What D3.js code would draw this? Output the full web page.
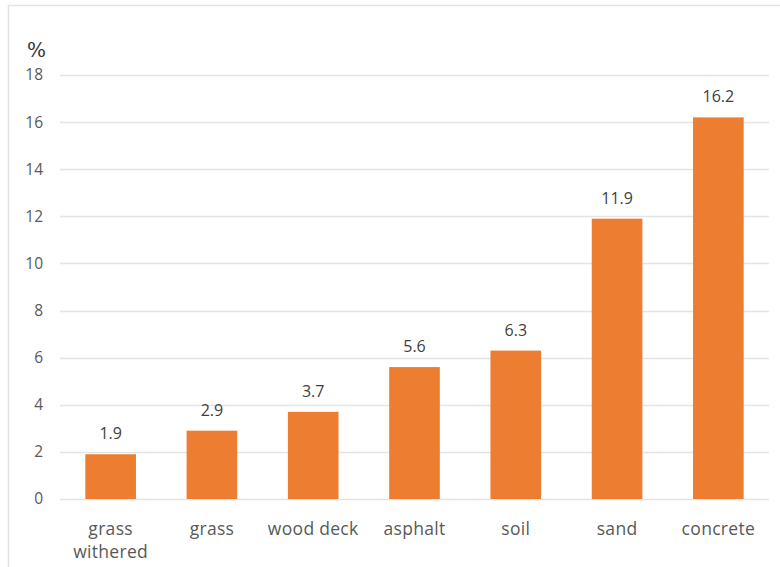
<!DOCTYPE html>
<html>
<head>
<meta charset="utf-8">
<script src="https://cdn.jsdelivr.net/npm/d3@7"></script>
<style>
  html, body { margin: 0; padding: 0; background: #fff; }
  svg { display: block; }
</style>
</head>
<body>
<svg id="chart" width="780" height="567"></svg>
<script>
const categories = ["grass withered", "grass", "wood deck", "asphalt", "soil", "sand", "concrete"];
const values = [1.9, 2.9, 3.7, 5.6, 6.3, 11.9, 16.2];
const yTicks = [0, 2, 4, 6, 8, 10, 12, 14, 16, 18];
const unitLabel = "%";

const svg = d3.select("#chart");
const plotLeft = 60, plotRight = 769, plotTop = 75, plotBottom = 499;

// outer frame (partially cropped)
svg.append("rect")
  .attr("x", 8.5).attr("y", 5.5)
  .attr("width", 800).attr("height", 600)
  .attr("fill", "none").attr("stroke", "#dfe2e7").attr("stroke-width", 1.5);

const x = d3.scaleBand().domain(categories).range([plotLeft, plotRight])
  .paddingInner(0.5).paddingOuter(0.25);
const y = d3.scaleLinear().domain([0, 18]).range([plotBottom, plotTop]);

// grid lines
svg.append("g").selectAll("line").data(yTicks).join("line")
  .attr("x1", plotLeft).attr("x2", plotRight)
  .attr("y1", d => Math.round(y(d)) + 0.5).attr("y2", d => Math.round(y(d)) + 0.5)
  .attr("stroke", "#e1e4e9").attr("stroke-width", 1.5);

// y axis labels
const yAxis = d3.axisLeft(y).tickValues(yTicks).tickSize(0).tickPadding(0);
const yg = svg.append("g").attr("transform", `translate(43,0)`).call(yAxis);
yg.select(".domain").remove();
yg.selectAll("text")
  .attr("font-family", "'Open Sans', sans-serif")
  .attr("font-size", 15.5)
  .attr("fill", "#595959");

// bars
svg.append("g").selectAll("rect").data(values).join("rect")
  .attr("x", (d, i) => x(categories[i]))
  .attr("width", x.bandwidth())
  .attr("y", d => y(d))
  .attr("height", d => y(0) - y(d))
  .attr("fill", "#ED7D31");

// data labels
svg.append("g").selectAll("text").data(values).join("text")
  .attr("x", (d, i) => x(categories[i]) + x.bandwidth() / 2)
  .attr("y", d => y(d) - 15)
  .attr("text-anchor", "middle")
  .attr("font-family", "'Open Sans', sans-serif")
  .attr("font-size", 16)
  .attr("fill", "#404040")
  .text(d => d.toFixed(1));

// x axis labels with wrapping
const xAxis = d3.axisBottom(x).tickSize(0).tickPadding(0);
const xg = svg.append("g").attr("transform", `translate(0,${plotBottom})`).call(xAxis);
xg.select(".domain").remove();
xg.selectAll("text")
  .attr("font-family", "'Open Sans', sans-serif")
  .attr("font-size", 17.5)
  .attr("letter-spacing", 0.3)
  .attr("fill", "#595959")
  .attr("dy", null)
  .attr("y", 36)
  .each(function(d) {
    const t = d3.select(this);
    const words = d.split(" ");
    const full = this.getComputedTextLength();
    if (full > x.step()) {
      t.text(null);
      words.forEach((w, i) => {
        t.append("tspan").attr("x", 0).attr("y", 36 + i * 23).text(w);
      });
    }
  });

// unit label
svg.append("text")
  .attr("x", 27).attr("y", 57)
  .attr("font-family", "'DejaVu Serif', 'Liberation Serif', serif")
  .attr("font-size", 20)
  .attr("font-weight", "normal")
  .attr("fill", "#333333")
  .text(unitLabel);
</script>
</body>
</html>
